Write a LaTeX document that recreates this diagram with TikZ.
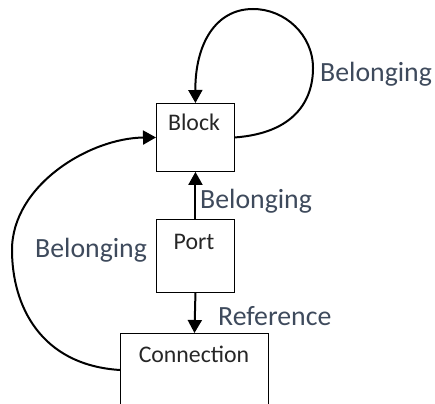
\documentclass[tikz,border=0pt]{standalone}
\usepackage{fontspec}
\setmainfont{Carlito}
\usetikzlibrary{arrows.meta}
\definecolor{lbl}{HTML}{3E4A5C}
\definecolor{boxtxt}{HTML}{262626}
\begin{document}
\begin{tikzpicture}[x=1pt,y=-1pt,
  box/.style={draw=black,line width=0.9pt,inner sep=0pt,anchor=north west},
  boxtext/.style={inner sep=0pt,anchor=base,text=boxtxt,font=\fontsize{23.8}{26}\selectfont},
  lbltext/.style={inner sep=0pt,anchor=base west,text=lbl,font=\fontsize{27.8}{30}\selectfont},
  conn/.style={line width=2pt,-{Triangle[length=13pt,width=14pt]}}]
\useasboundingbox (0,0) rectangle (435,403);
\clip (0,0) rectangle (435,403);
\node[box,minimum width=78pt,minimum height=68pt] (block) at (156,103) {};
\node[box,minimum width=78pt,minimum height=73pt] (port) at (156,219) {};
\node[box,minimum width=148pt,minimum height=100pt] (connection) at (120,333) {};
\node[boxtext] (blockt) at (194,131) {Block};
\node[boxtext] (portt) at (194,249) {Port};
\node[boxtext] (connt) at (194,362) {Connection};
\coordinate (cw) at (120,370);
\draw[conn] (block.east) .. controls (295,133) and (313,100) .. (313,68)
  .. controls (313,35) and (285,9) .. (253,9)
  .. controls (215,9) and (195,45) .. (block.north);
\draw[conn] (port.north) -- (block.south);
\draw[conn] (port.south) -- (connection.north);
\draw[conn] (cw) .. controls (40,365) and (12,305) .. (12,250)
  .. controls (12,185) and (90,138) .. (block.west);
\node[lbltext] (l1) at (320,82) {Belonging};
\node[lbltext] (l2) at (200,208) {Belonging};
\node[lbltext] (l3) at (35,257) {Belonging};
\node[lbltext] (l4) at (218,325) {Reference};
\end{tikzpicture}
\end{document}
